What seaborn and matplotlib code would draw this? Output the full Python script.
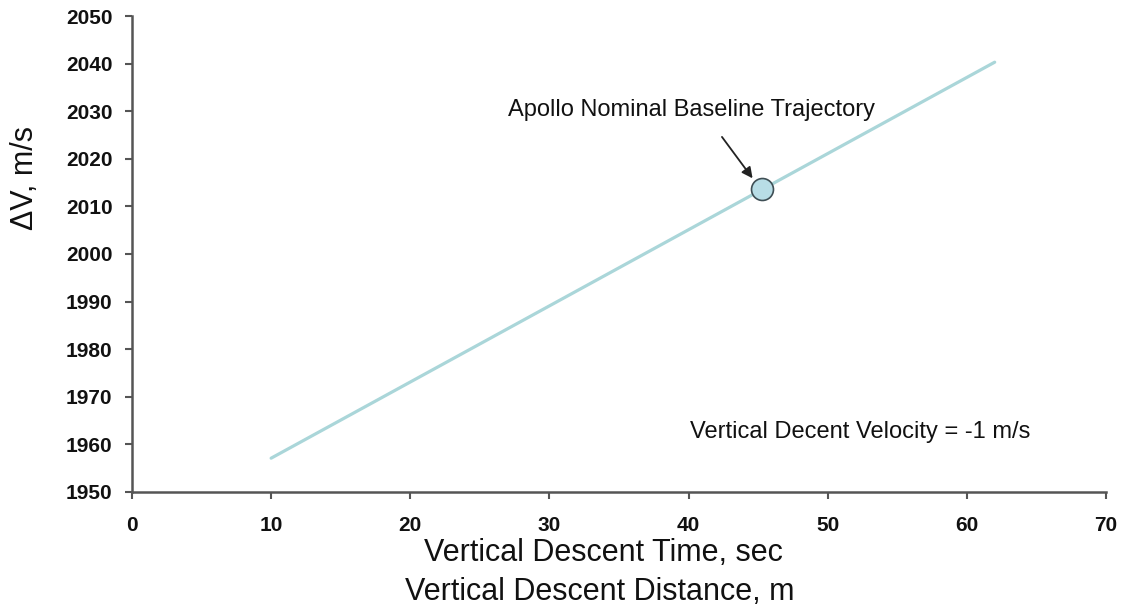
import seaborn as sns
import matplotlib.pyplot as plt
import pandas as pd

# values
descent_time = [10, 20, 30, 40, 50, 60, 62]
delta_v = [1957.1, 1973.1, 1989.1, 2005.1, 2021.1, 2037.1, 2040.3]
baseline_time = [45.3]
baseline_dv = [2013.6]
x_ticks = [0, 10, 20, 30, 40, 50, 60, 70]
y_ticks = [1950, 1960, 1970, 1980, 1990, 2000, 2010, 2020, 2030, 2040, 2050]

sns.set_theme(style="white")
plt.rcParams['font.family'] = ['Liberation Sans', 'DejaVu Sans']
plt.rcParams['text.color'] = '#111111'
plt.rcParams['xtick.color'] = '#111111'
plt.rcParams['ytick.color'] = '#111111'

df = pd.DataFrame({'t': descent_time, 'dv': delta_v})
base = pd.DataFrame({'t': baseline_time, 'dv': baseline_dv})

fig = plt.figure(figsize=(11.28, 6.07), dpi=100)
ax = fig.add_axes([0.117, 0.1895, 0.8635, 0.7841])

sns.lineplot(data=df, x='t', y='dv', ax=ax, color='#aad6d9', linewidth=2.3)
sns.scatterplot(data=base, x='t', y='dv', ax=ax, s=250, color='#b8dde6',
                edgecolor='#3f4f55', linewidth=1.2, zorder=5)

ax.set_xlim(0, 70)
ax.set_ylim(1950, 2050)
ax.set_xticks(x_ticks)
ax.set_yticks(y_ticks)
ax.tick_params(axis='both', direction='out', length=5, width=1.5,
               labelsize=15, bottom=True, left=True)
ax.tick_params(axis='both', color='#555555')
ax.tick_params(axis='x', pad=12)
ax.tick_params(axis='y', pad=9)
for lab in ax.get_xticklabels() + ax.get_yticklabels():
    lab.set_fontweight('bold')

for side in ['top', 'right']:
    ax.spines[side].set_visible(False)
for side in ['left', 'bottom']:
    ax.spines[side].set_color('#555555')
    ax.spines[side].set_linewidth(1.8)

ax.set_xlabel('')
ax.set_ylabel('')
fig.text(0.022, 0.707, 'ΔV, m/s', rotation=90, ha='center', va='center', fontsize=22)
fig.text(0.535, 0.0895, 'Vertical Descent Time, sec', ha='center', va='center', fontsize=22)
fig.text(0.532, 0.0245, 'Vertical Descent Distance, m', ha='center', va='center', fontsize=22)

ax.text(40.2, 2030.2, 'Apollo Nominal Baseline Trajectory', ha='center', va='center', fontsize=17)
ax.annotate('', xy=(44.6, 2015.9), xytext=(42.4, 2024.6),
            arrowprops=dict(arrowstyle='-|>', color='#222222', lw=1.3, mutation_scale=16,
                            shrinkA=0, shrinkB=0))
ax.text(52.3, 1962.5, 'Vertical Decent Velocity = -1 m/s', ha='center', va='center', fontsize=17)

fig.savefig('out.png', dpi=100)
